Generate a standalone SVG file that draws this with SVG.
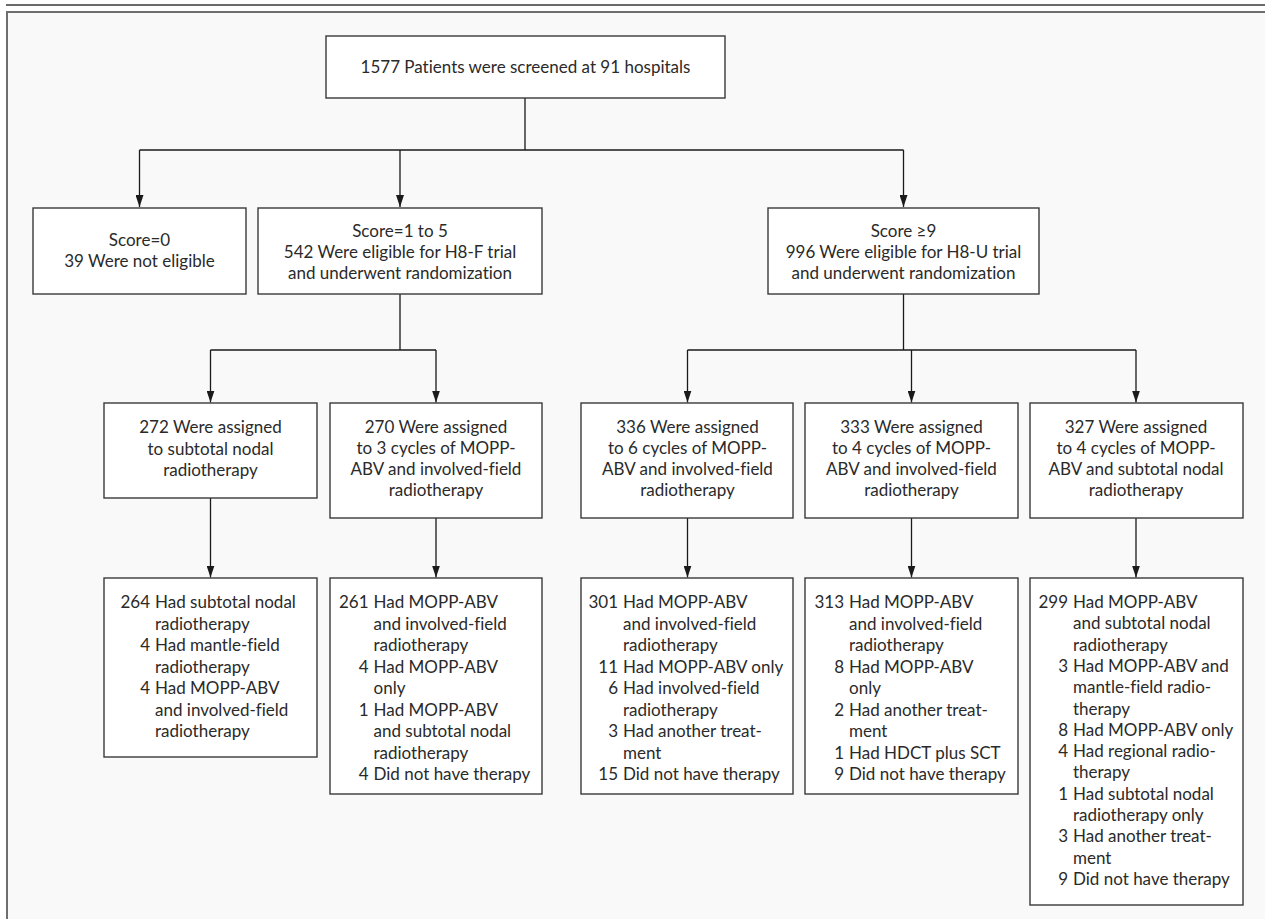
<svg xmlns="http://www.w3.org/2000/svg" width="1265" height="919" viewBox="0 0 1265 919">
<style>
.box{fill:#ffffff;stroke:#3a3a3a;stroke-width:1.4}
.t{font-family:Lato,"Liberation Sans",sans-serif;font-size:17px;fill:#2a2a2a;font-variant-ligatures:none;font-feature-settings:"liga" 0,"clig" 0}
.c{text-anchor:middle}
.conn{fill:none;stroke:#1a1a1a;stroke-width:1.3}
</style>
<defs>
<marker id="ah" markerUnits="userSpaceOnUse" markerWidth="12" markerHeight="8" viewBox="0 0 12 8" refX="12" refY="4" orient="auto">
<path d="M0,0 L12,4 L0,8 z" fill="#1a1a1a"/>
</marker>
</defs>
<rect x="0" y="0" width="1265" height="919" fill="#ffffff"/>
<line x1="6" y1="5" x2="1265" y2="5" stroke="#6a6a6a" stroke-width="2"/>
<rect x="7" y="12" width="1270" height="920" fill="#f9f9f9" stroke="#6e6e6e" stroke-width="2"/>

<g id="connectors">
<path class="conn" d="M525,98 V150 M139.5,150 H903.5"/>
<path class="conn" d="M139.5,150 V207" marker-end="url(#ah)"/>
<path class="conn" d="M400,150 V207" marker-end="url(#ah)"/>
<path class="conn" d="M903.5,150 V207" marker-end="url(#ah)"/>
<path class="conn" d="M400,294 V350 M210.5,350 H436"/>
<path class="conn" d="M210.5,350 V402.5" marker-end="url(#ah)"/>
<path class="conn" d="M436,350 V402.5" marker-end="url(#ah)"/>
<path class="conn" d="M903.5,294 V350 M687.5,350 H1136"/>
<path class="conn" d="M687.5,350 V402.5" marker-end="url(#ah)"/>
<path class="conn" d="M911.5,350 V402.5" marker-end="url(#ah)"/>
<path class="conn" d="M1136,350 V402.5" marker-end="url(#ah)"/>
<path class="conn" d="M210.5,498 V577.5" marker-end="url(#ah)"/>
<path class="conn" d="M436,518 V577.5" marker-end="url(#ah)"/>
<path class="conn" d="M687.5,518 V577.5" marker-end="url(#ah)"/>
<path class="conn" d="M911.5,518 V577.5" marker-end="url(#ah)"/>
<path class="conn" d="M1136,518 V577.5" marker-end="url(#ah)"/>
</g>

<g id="screened">
<rect class="box" x="326" y="36" width="399" height="62"/>
<text class="t c" x="525.5" y="73">1577 Patients were screened at 91 hospitals</text>
</g>

<g id="score0">
<rect class="box" x="33" y="208" width="213" height="86"/>
<text class="t c" x="139.5" y="245.5">Score=0</text>
<text class="t c" x="139.5" y="266.5">39 Were not eligible</text>
</g>

<g id="h8f">
<rect class="box" x="258" y="208" width="284" height="86"/>
<text class="t c" x="400" y="237">Score=1 to 5</text>
<text class="t c" x="400" y="258">542 Were eligible for H8-F trial</text>
<text class="t c" x="400" y="279">and underwent randomization</text>
</g>

<g id="h8u">
<rect class="box" x="768" y="208" width="271" height="86"/>
<text class="t c" x="903.5" y="237">Score ≥9</text>
<text class="t c" x="903.5" y="258">996 Were eligible for H8-U trial</text>
<text class="t c" x="903.5" y="279">and underwent randomization</text>
</g>

<g id="arm272">
<rect class="box" x="104" y="403" width="213" height="95"/>
<text class="t c" x="210.5" y="433">272 Were assigned</text>
<text class="t c" x="210.5" y="454.5">to subtotal nodal</text>
<text class="t c" x="210.5" y="476">radiotherapy</text>
</g>

<g id="arm270">
<rect class="box" x="330" y="403" width="212" height="115"/>
<text class="t c" x="436" y="433">270 Were assigned</text>
<text class="t c" x="436" y="454">to 3 cycles of MOPP-</text>
<text class="t c" x="436" y="475">ABV and involved-field</text>
<text class="t c" x="436" y="496">radiotherapy</text>
</g>

<g id="arm336">
<rect class="box" x="581" y="403" width="212" height="115"/>
<text class="t c" x="687.5" y="433">336 Were assigned</text>
<text class="t c" x="687.5" y="454">to 6 cycles of MOPP-</text>
<text class="t c" x="687.5" y="475">ABV and involved-field</text>
<text class="t c" x="687.5" y="496">radiotherapy</text>
</g>

<g id="arm333">
<rect class="box" x="805" y="403" width="213" height="115"/>
<text class="t c" x="911.5" y="433">333 Were assigned</text>
<text class="t c" x="911.5" y="454">to 4 cycles of MOPP-</text>
<text class="t c" x="911.5" y="475">ABV and involved-field</text>
<text class="t c" x="911.5" y="496">radiotherapy</text>
</g>

<g id="arm327">
<rect class="box" x="1030" y="403" width="213" height="115"/>
<text class="t c" x="1136" y="433">327 Were assigned</text>
<text class="t c" x="1136" y="454">to 4 cycles of MOPP-</text>
<text class="t c" x="1136" y="475">ABV and subtotal nodal</text>
<text class="t c" x="1136" y="496">radiotherapy</text>
</g>

<g id="out272">
<rect class="box" x="104" y="578" width="213" height="179"/>
<text class="t" y="608"><tspan x="150" text-anchor="end">264</tspan><tspan x="155">Had subtotal nodal</tspan></text>
<text class="t" x="155" y="629.5">radiotherapy</text>
<text class="t" y="651"><tspan x="150" text-anchor="end">4</tspan><tspan x="155">Had mantle-field</tspan></text>
<text class="t" x="155" y="672.5">radiotherapy</text>
<text class="t" y="694"><tspan x="150" text-anchor="end">4</tspan><tspan x="155">Had MOPP-ABV</tspan></text>
<text class="t" x="155" y="715.5">and involved-field</text>
<text class="t" x="155" y="737">radiotherapy</text>
</g>

<g id="out270">
<rect class="box" x="330" y="578" width="212" height="216"/>
<text class="t" y="608"><tspan x="368.5" text-anchor="end">261</tspan><tspan x="373.5">Had MOPP-ABV</tspan></text>
<text class="t" x="373.5" y="629.5">and involved-field</text>
<text class="t" x="373.5" y="651">radiotherapy</text>
<text class="t" y="672.5"><tspan x="368.5" text-anchor="end">4</tspan><tspan x="373.5">Had MOPP-ABV</tspan></text>
<text class="t" x="373.5" y="694">only</text>
<text class="t" y="715.5"><tspan x="368.5" text-anchor="end">1</tspan><tspan x="373.5">Had MOPP-ABV</tspan></text>
<text class="t" x="373.5" y="737">and subtotal nodal</text>
<text class="t" x="373.5" y="758.5">radiotherapy</text>
<text class="t" y="780"><tspan x="368.5" text-anchor="end">4</tspan><tspan x="373.5">Did not have therapy</tspan></text>
</g>

<g id="out336">
<rect class="box" x="581" y="578" width="212" height="216"/>
<text class="t" y="608"><tspan x="618" text-anchor="end">301</tspan><tspan x="623">Had MOPP-ABV</tspan></text>
<text class="t" x="623" y="629.5">and involved-field</text>
<text class="t" x="623" y="651">radiotherapy</text>
<text class="t" y="672.5"><tspan x="618" text-anchor="end">11</tspan><tspan x="623">Had MOPP-ABV only</tspan></text>
<text class="t" y="694"><tspan x="618" text-anchor="end">6</tspan><tspan x="623">Had involved-field</tspan></text>
<text class="t" x="623" y="715.5">radiotherapy</text>
<text class="t" y="737"><tspan x="618" text-anchor="end">3</tspan><tspan x="623">Had another treat-</tspan></text>
<text class="t" x="623" y="758.5">ment</text>
<text class="t" y="780"><tspan x="618" text-anchor="end">15</tspan><tspan x="623">Did not have therapy</tspan></text>
</g>

<g id="out333">
<rect class="box" x="805" y="578" width="213" height="216"/>
<text class="t" y="608"><tspan x="844" text-anchor="end">313</tspan><tspan x="849">Had MOPP-ABV</tspan></text>
<text class="t" x="849" y="629.5">and involved-field</text>
<text class="t" x="849" y="651">radiotherapy</text>
<text class="t" y="672.5"><tspan x="844" text-anchor="end">8</tspan><tspan x="849">Had MOPP-ABV</tspan></text>
<text class="t" x="849" y="694">only</text>
<text class="t" y="715.5"><tspan x="844" text-anchor="end">2</tspan><tspan x="849">Had another treat-</tspan></text>
<text class="t" x="849" y="737">ment</text>
<text class="t" y="758.5"><tspan x="844" text-anchor="end">1</tspan><tspan x="849">Had HDCT plus SCT</tspan></text>
<text class="t" y="780"><tspan x="844" text-anchor="end">9</tspan><tspan x="849">Did not have therapy</tspan></text>
</g>

<g id="out327">
<rect class="box" x="1030" y="578" width="213" height="327"/>
<text class="t" y="608"><tspan x="1068" text-anchor="end">299</tspan><tspan x="1073">Had MOPP-ABV</tspan></text>
<text class="t" x="1073" y="629.3">and subtotal nodal</text>
<text class="t" x="1073" y="650.6">radiotherapy</text>
<text class="t" y="671.9"><tspan x="1068" text-anchor="end">3</tspan><tspan x="1073">Had MOPP-ABV and</tspan></text>
<text class="t" x="1073" y="693.2">mantle-field radio-</text>
<text class="t" x="1073" y="714.5">therapy</text>
<text class="t" y="735.8"><tspan x="1068" text-anchor="end">8</tspan><tspan x="1073">Had MOPP-ABV only</tspan></text>
<text class="t" y="757.1"><tspan x="1068" text-anchor="end">4</tspan><tspan x="1073">Had regional radio-</tspan></text>
<text class="t" x="1073" y="778.4">therapy</text>
<text class="t" y="799.7"><tspan x="1068" text-anchor="end">1</tspan><tspan x="1073">Had subtotal nodal</tspan></text>
<text class="t" x="1073" y="821">radiotherapy only</text>
<text class="t" y="842.3"><tspan x="1068" text-anchor="end">3</tspan><tspan x="1073">Had another treat-</tspan></text>
<text class="t" x="1073" y="863.6">ment</text>
<text class="t" y="884.9"><tspan x="1068" text-anchor="end">9</tspan><tspan x="1073">Did not have therapy</tspan></text>
</g>
</svg>
